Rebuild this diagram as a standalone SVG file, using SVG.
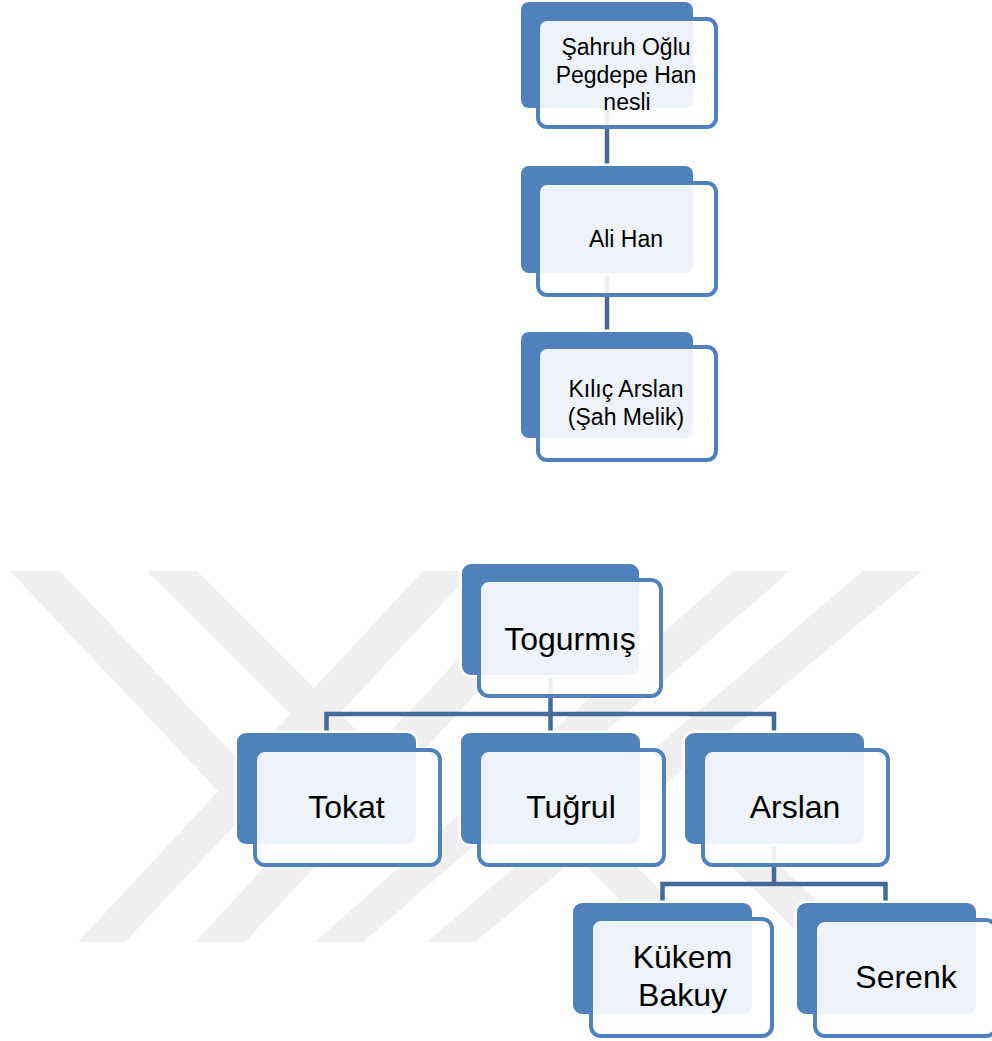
<svg xmlns="http://www.w3.org/2000/svg" width="992" height="1041" viewBox="0 0 992 1041">
<defs>
<style>
.back{fill:#4F81BD;stroke:#FFFFFF;stroke-width:5;paint-order:stroke}
.front{fill:#FFFFFF;fill-opacity:0.9;stroke:#4F81BD;stroke-width:4}
.conn{stroke:#44699C;stroke-width:4.5;fill:none;stroke-linecap:butt}
.wm{fill:#EFEFEF}
.t1{font-family:"Liberation Sans",Arial,sans-serif;font-size:23px;fill:#000;text-anchor:middle}
.t2{font-family:"Liberation Sans",Arial,sans-serif;font-size:32px;fill:#000;text-anchor:middle}
</style>
</defs>
<rect width="992" height="1041" fill="#FFFFFF"/>
<g id="watermark">
<polygon class="wm" points="10,571 60,571 324,850 274,850"/>
<polygon class="wm" points="147,571 197,571 366,740 316,740"/>
<polygon class="wm" points="423,571 473,571 125,942 78,942"/>
<polygon class="wm" points="540,571 590,571 245,942 195,942"/>
<polygon class="wm" points="733,571 790,571 363,942 315,942"/>
<polygon class="wm" points="863,571 922,571 475,942 427,942"/>
<polygon class="wm" points="520,800 570,800 712,942 662,942"/>
<polygon class="wm" points="705,840 755,840 857,942 807,942"/>
</g>
<g id="connectors">
<line class="conn" x1="607" y1="106" x2="607" y2="168"/>
<line class="conn" x1="607" y1="271" x2="607" y2="334"/>
<line class="conn" x1="550.5" y1="672" x2="550.5" y2="735"/>
<polyline class="conn" points="326.5,735 326.5,714 774,714 774,735"/>
<line class="conn" x1="774" y1="842" x2="774" y2="884"/>
<polyline class="conn" points="662.5,905 662.5,884 885.5,884 885.5,905"/>
</g>
<g id="node-sahruh">
<rect class="back" x="521" y="2" width="172" height="106" rx="8"/>
<rect class="front" x="538" y="19" width="178" height="108" rx="9"/>
<text class="t1" x="626" y="55">Şahruh Oğlu<tspan x="626" dy="27.5">Pegdepe Han</tspan><tspan x="627" dy="27.5">nesli</tspan></text>
</g>
<g id="node-alihan">
<rect class="back" x="521" y="166" width="172" height="107" rx="8"/>
<rect class="front" x="538" y="183" width="178" height="112" rx="9"/>
<text class="t1" x="626" y="247">Ali Han</text>
</g>
<g id="node-kilicarslan">
<rect class="back" x="521" y="332" width="172" height="106" rx="8"/>
<rect class="front" x="538" y="347" width="178" height="113" rx="9"/>
<text class="t1" x="626" y="397">Kılıç Arslan<tspan x="626" dy="27.5">(Şah Melik)</tspan></text>
</g>
<g id="node-togurmis">
<rect class="back" x="462" y="564" width="177" height="111" rx="9"/>
<rect class="front" x="479" y="580" width="182" height="116" rx="10"/>
<text class="t2" x="570" y="650">Togurmış</text>
</g>
<g id="node-tokat">
<rect class="back" x="237" y="733" width="179" height="111" rx="9"/>
<rect class="front" x="255" y="750" width="185" height="115" rx="10"/>
<text class="t2" x="346.5" y="818">Tokat</text>
</g>
<g id="node-tugrul">
<rect class="back" x="461" y="733" width="179" height="111" rx="9"/>
<rect class="front" x="479" y="750" width="185" height="115" rx="10"/>
<text class="t2" x="571" y="818">Tuğrul</text>
</g>
<g id="node-arslan">
<rect class="back" x="685" y="733" width="179" height="111" rx="9"/>
<rect class="front" x="703" y="750" width="185" height="115" rx="10"/>
<text class="t2" x="795" y="818">Arslan</text>
</g>
<g id="node-kukem">
<rect class="back" x="573" y="903" width="179" height="111" rx="9"/>
<rect class="front" x="591" y="919" width="181" height="117" rx="10"/>
<text class="t2" x="682.5" y="968">Kükem<tspan x="682.5" dy="37.5">Bakuy</tspan></text>
</g>
<g id="node-serenk">
<rect class="back" x="797" y="903" width="179" height="111" rx="9"/>
<rect class="front" x="815" y="920" width="181" height="116" rx="10"/>
<text class="t2" x="906" y="988">Serenk</text>
</g>
</svg>
